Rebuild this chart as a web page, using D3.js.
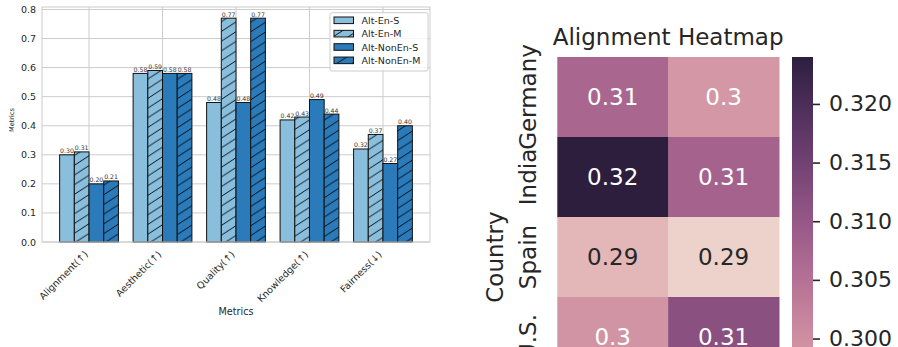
<!DOCTYPE html>
<html><head><meta charset="utf-8">
<script src="https://cdn.jsdelivr.net/npm/d3@7"></script>
<style>
body{margin:0;background:#fff}
svg{display:block;font-family:"DejaVu Sans",sans-serif}
</style>
</head><body>
<svg id="c" width="898" height="347"></svg>
<script>
// ---------- data ----------
const metrics = ["Alignment(↑)", "Aesthetic(↑)", "Quality(↑)", "Knowledge(↑)", "Fairness(↓)"];
const seriesNames = ["Alt-En-S", "Alt-En-M", "Alt-NonEn-S", "Alt-NonEn-M"];
const altEnS    = [0.30, 0.58, 0.48, 0.42, 0.32];
const altEnM    = [0.31, 0.59, 0.77, 0.43, 0.37];
const altNonEnS = [0.20, 0.58, 0.48, 0.49, 0.27];
const altNonEnM = [0.21, 0.58, 0.77, 0.44, 0.40];
const barYTicks = [0.0, 0.1, 0.2, 0.3, 0.4, 0.5, 0.6, 0.7, 0.8];

const countries = ["Germany", "India", "Spain", "U.S."];
const heatColumns = ["A", "B"];
const heatValues = [
  [0.3070, 0.2987],
  [0.3240, 0.3079],
  [0.2938, 0.2899],
  [0.2992, 0.3118]
];
const cbarTicks = [0.300, 0.305, 0.310, 0.315, 0.320];

// ---------- helpers ----------
const svg = d3.select("#c");
const TXT = "#262626";
const seriesData = [altEnS, altEnM, altNonEnS, altNonEnM];
const seriesFill = ["#89bedc", "#89bedc", "#2b7bba", "#2b7bba"];
const seriesHatch = [false, true, false, true];

// seaborn cubehelix_palette(as_cmap=True) defaults
function cubehelix(x) {
  const start = 0, rot = 0.4, gamma = 1.0, hue = 0.8;
  const xg = Math.pow(x, gamma);
  const a = hue * xg * (1 - xg) / 2;
  const phi = 2 * Math.PI * (start / 3 + rot * x);
  const f = (p0, p1) => Math.max(0, Math.min(1, xg + a * (p0 * Math.cos(phi) + p1 * Math.sin(phi))));
  return d3.rgb(f(-0.14861, 1.78277) * 255, f(-0.29227, -0.90649) * 255, f(1.97294, 0) * 255);
}
const allVals = heatValues.flat();
const vmin = d3.min(allVals), vmax = d3.max(allVals);
const tNorm = d3.scaleLinear().domain([vmin, vmax]).range([0.85, 0.15]);
const heatColor = v => cubehelix(tNorm(v));
function lum(c) {
  const l = u => { u /= 255; return u <= 0.03928 ? u / 12.92 : Math.pow((u + 0.055) / 1.055, 2.4); };
  return 0.2126 * l(c.r) + 0.7152 * l(c.g) + 0.0722 * l(c.b);
}

// ---------- defs: hatch patterns ----------
const defs = svg.append("defs");
const HW = 15, HH = 9.7;
["#89bedc", "#2b7bba"].forEach((col, k) => {
  const p = defs.append("pattern").attr("id", "hatch" + k)
    .attr("patternUnits", "userSpaceOnUse").attr("width", HW).attr("height", HH);
  p.append("rect").attr("width", HW).attr("height", HH).attr("fill", col);
  p.append("path")
    .attr("d", `M${-HW},${2*HH}L${2*HW},${-HH}M${-HW},${HH}L${HW},${-HH}M0,${2*HH}L${2*HW},0`)
    .attr("stroke", "#000").attr("stroke-width", 0.9);
});
const fillFor = j => seriesHatch[j] ? `url(#hatch${j < 2 ? 0 : 1})` : seriesFill[j];

// ---------- left: grouped bar chart ----------
const L = {left: 42, right: 430, top: 7, bottom: 242};
const x = d3.scaleLinear().domain([-0.64, metrics.length - 1 + 0.64]).range([L.left, L.right]);
const y = d3.scaleLinear().domain([0, 0.8085]).range([L.bottom, L.top]);
const gL = svg.append("g");

gL.append("g").selectAll("line.h").data(barYTicks).join("line")
  .attr("x1", L.left).attr("x2", L.right).attr("y1", d => y(d)).attr("y2", d => y(d))
  .attr("stroke", "#cccccc").attr("stroke-width", 1);
gL.append("g").selectAll("line.v").data(metrics).join("line")
  .attr("x1", (d, i) => x(i)).attr("x2", (d, i) => x(i)).attr("y1", L.top).attr("y2", L.bottom)
  .attr("stroke", "#cccccc").attr("stroke-width", 1);

const bw = x(0.2) - x(0);
seriesData.forEach((vals, j) => {
  const off = -0.3 + 0.2 * j;
  const g = gL.append("g");
  g.selectAll("rect").data(vals).join("rect")
    .attr("x", (d, i) => x(i + off - 0.1)).attr("width", bw)
    .attr("y", d => y(d)).attr("height", d => y(0) - y(d))
    .attr("fill", fillFor(j)).attr("stroke", "#111").attr("stroke-width", 1);
  g.selectAll("text").data(vals).join("text")
    .attr("x", (d, i) => x(i + off)).attr("y", d => y(d) - 1.5)
    .attr("text-anchor", "middle").attr("font-size", 6.2).attr("fill", "#333")
    .text(d => d3.format(".2f")(d));
});

gL.append("rect").attr("x", L.left).attr("y", L.top)
  .attr("width", L.right - L.left).attr("height", L.bottom - L.top)
  .attr("fill", "none").attr("stroke", "#cccccc").attr("stroke-width", 1);

// y axis
const yAx = gL.append("g").attr("transform", `translate(${L.left},0)`)
  .call(d3.axisLeft(y).tickValues(barYTicks).tickSize(0).tickPadding(6).tickFormat(d3.format(".1f")));
yAx.select(".domain").remove();
yAx.selectAll("text").attr("font-size", 9.5).attr("fill", TXT).attr("font-family", "DejaVu Sans");

// x axis
const xAx = gL.append("g").attr("transform", `translate(0,${L.bottom})`)
  .call(d3.axisBottom(x).tickValues(d3.range(metrics.length)).tickSize(0).tickFormat(i => metrics[i]));
xAx.select(".domain").remove();
xAx.selectAll(".tick text")
  .attr("font-size", 9.5).attr("fill", TXT).attr("font-family", "DejaVu Sans")
  .attr("text-anchor", "end").attr("dy", 0).attr("y", 0)
  .attr("transform", "translate(-1,13) rotate(-45)");

gL.append("text").attr("x", (L.left + L.right) / 2).attr("y", 315)
  .attr("text-anchor", "middle").attr("font-size", 9.6).attr("fill", TXT).text("Metrics");
gL.append("text").attr("transform", "translate(13.5,120) rotate(-90)")
  .attr("text-anchor", "middle").attr("font-size", 6.6).attr("fill", TXT).text("Metrics");

// legend
const lg = gL.append("g");
lg.append("rect").attr("x", 330).attr("y", 12.7).attr("width", 98).attr("height", 58.3).attr("rx", 2)
  .attr("fill", "#fff").attr("fill-opacity", 0.8).attr("stroke", "#cccccc").attr("stroke-width", 1);
seriesNames.forEach((nm, j) => {
  const cy = 20.3 + j * 13.35;
  lg.append("rect").attr("x", 334).attr("y", cy - 3.3).attr("width", 19.5).attr("height", 6.6)
    .attr("fill", fillFor(j)).attr("stroke", "#111").attr("stroke-width", 1);
  lg.append("text").attr("x", 361.5).attr("y", cy).attr("dominant-baseline", "central")
    .attr("font-size", 9.5).attr("fill", TXT).text(nm);
});

// ---------- right: heatmap ----------
const H = {left: 557.3, right: 779, top: 57, rowH: 80};
const hx = d3.scaleBand().domain(heatColumns).range([H.left, H.right]);
const hy = d3.scaleBand().domain(countries).range([H.top, H.top + H.rowH * countries.length]);
const gR = svg.append("g");

countries.forEach((c, r) => {
  heatColumns.forEach((col, k) => {
    const v = heatValues[r][k];
    const color = heatColor(v);
    gR.append("rect").attr("x", hx(col)).attr("y", hy(c))
      .attr("width", hx.bandwidth() + 0.5).attr("height", hy.bandwidth() + 0.5)
      .attr("fill", color);
    gR.append("text").attr("x", hx(col) + hx.bandwidth() / 2).attr("y", hy(c) + hy.bandwidth() / 2)
      .attr("text-anchor", "middle").attr("dominant-baseline", "central")
      .attr("font-size", 23).attr("fill", lum(color) > 0.408 ? TXT : "#ffffff")
      .text(d3.format(".2~g")(v));
  });
  gR.append("text")
    .attr("transform", `translate(536,${hy(c) + hy.bandwidth() / 2}) rotate(-90)`)
    .attr("text-anchor", "middle").attr("font-size", 23).attr("fill", TXT).text(c);
});

gR.append("text").attr("x", (H.left + H.right) / 2).attr("y", 45)
  .attr("text-anchor", "middle").attr("font-size", 23).attr("fill", TXT).text("Alignment Heatmap");
gR.append("text").attr("transform", "translate(503,257) rotate(-90)")
  .attr("text-anchor", "middle").attr("font-size", 23).attr("fill", TXT).text("Country");

// colorbar
const CB = {x: 792, w: 21, top: 57, bottom: 457};
const cbY = d3.scaleLinear().domain([vmin, vmax]).range([CB.bottom, CB.top]);
const grad = defs.append("linearGradient").attr("id", "cbg")
  .attr("x1", 0).attr("y1", 1).attr("x2", 0).attr("y2", 0);
d3.range(0, 1.0001, 0.02).forEach(t => {
  grad.append("stop").attr("offset", t).attr("stop-color", heatColor(vmin + t * (vmax - vmin)));
});
gR.append("rect").attr("x", CB.x).attr("y", CB.top).attr("width", CB.w)
  .attr("height", CB.bottom - CB.top).attr("fill", "url(#cbg)");
const cbAx = gR.append("g").attr("transform", `translate(${CB.x + CB.w},0)`)
  .call(d3.axisRight(cbY).tickValues(cbarTicks).tickSize(7).tickPadding(9).tickFormat(d3.format(".3f")));
cbAx.select(".domain").remove();
cbAx.selectAll("line").attr("stroke", TXT).attr("stroke-width", 1.6);
cbAx.selectAll("text").attr("font-size", 22).attr("fill", TXT).attr("font-family", "DejaVu Sans");
</script>
</body></html>
